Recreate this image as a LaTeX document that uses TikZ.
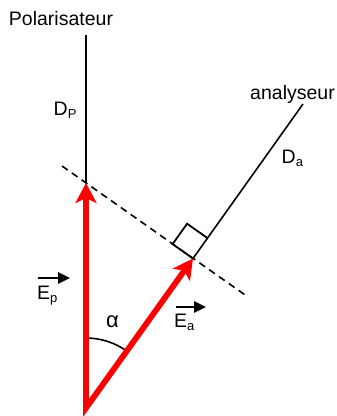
\documentclass[tikz,border=0pt]{standalone}
\usepackage{fontspec}
\setmainfont{Liberation Sans}
\usetikzlibrary{arrows.meta}
\tikzset{
  lbl/.style={inner sep=0pt, font=\fontsize{19.5}{19.5}\selectfont},
  thinline/.style={line width=1.6pt, black},
  redvec/.style={line width=5.8pt, red, line join=miter, miter limit=20},
  blackvec/.style={line width=2.6pt, black, -{Triangle[length=12pt,width=11pt]}},
}
\newcommand{\sbs}[1]{\raisebox{-3pt}{\fontsize{13}{13}\selectfont #1}}
\begin{document}
\begin{tikzpicture}[x=1pt,y=-1pt]
\useasboundingbox (0,0) rectangle (337,416);
\coordinate (O) at (86,408);
\coordinate (P) at (86,183);
\coordinate (A) at (193,258.5);
\coordinate (Ptop) at (86,35);
\coordinate (Atop) at (303,104);
\coordinate (D1) at (62,166);
\coordinate (D2) at (248,297);
\coordinate (S1) at (172.6,244.1);
\coordinate (S2) at (187.1,223.7);
\coordinate (S3) at (207.5,238.1);
% axes
\draw[thinline] (Ptop) -- (P);
\draw[thinline] (A) -- (Atop);
\draw[thinline, dash pattern=on 7pt off 5pt] (D1) -- (D2);
\draw[thinline, line width=1.8pt, line join=miter] (A) -- (S1) -- (S2) -- (S3);
% angle arc
\draw[thinline] (86,338) arc[start angle=-90, end angle=-54.5, radius=70];
% red vectors
\draw[redvec, {Stealth[length=20pt,width=21pt,inset=5pt]}-{Stealth[length=20pt,width=21pt,inset=5pt]}] (P) -- (O) -- (A);
% labels
\node[lbl, anchor=base] (pol) at (61,25) {Polarisateur};
\node[lbl, anchor=base west] (dp) at (53.5,115) {D\sbs{P}};
\node[lbl, anchor=base] (ana) at (292.5,99) {analyseur};
\node[lbl, anchor=base west] (da) at (281.5,163) {D\sbs{a}};
\node[lbl, anchor=base west] (ep) at (37,299) {E\sbs{p}};
\node[lbl, anchor=base west] (ea) at (174,327) {E\sbs{a}};
\node[lbl, anchor=base, font=\fontsize{22}{22}\selectfont] (alpha) at (112.5,327) {α};
\coordinate (ep1) at (38,278);
\coordinate (ep2) at (70,278);
\coordinate (ea1) at (176,307);
\coordinate (ea2) at (206,307);
\draw[blackvec] (ep1) -- (ep2);
\draw[blackvec] (ea1) -- (ea2);
\end{tikzpicture}
\end{document}
